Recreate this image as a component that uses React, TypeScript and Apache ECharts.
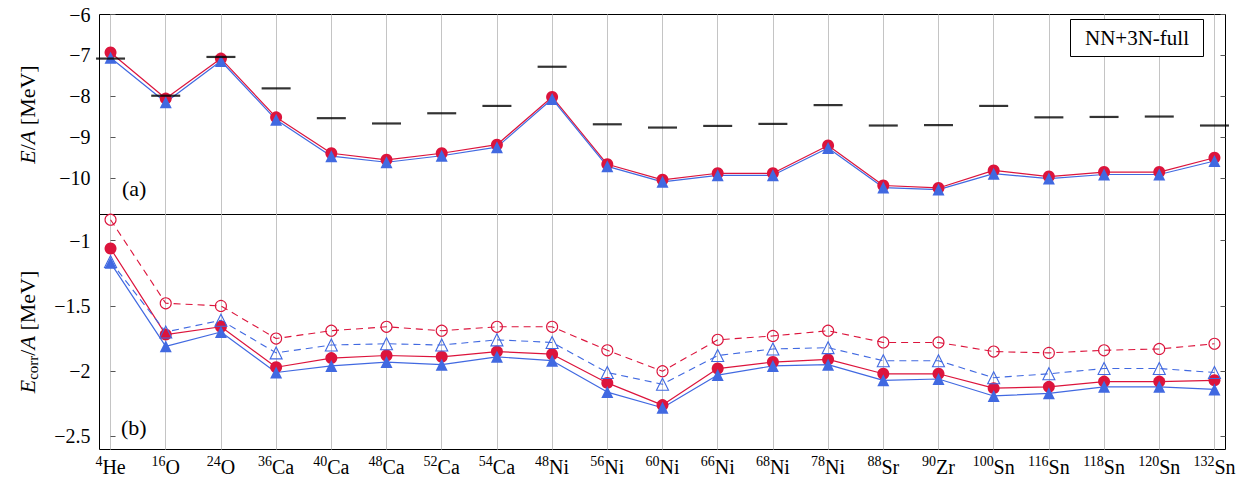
import React, { useEffect, useRef } from "react";
import * as echarts from "echarts";

// ---------- data ----------
const massNumbers = ["4", "16", "24", "36", "40", "48", "52", "54", "48", "56", "60", "66", "68", "78", "88", "90", "100", "116", "118", "120", "132"];
const elements = ["He", "O", "O", "Ca", "Ca", "Ca", "Ca", "Ca", "Ni", "Ni", "Ni", "Ni", "Ni", "Ni", "Sr", "Zr", "Sn", "Sn", "Sn", "Sn", "Sn"];

// panel (a): energy per nucleon [MeV]
const energyRed = [-6.93, -8.06, -7.08, -8.52, -9.40, -9.56, -9.40, -9.19, -8.02, -9.67, -10.05, -9.89, -9.89, -9.21, -10.19, -10.25, -9.82, -9.97, -9.86, -9.86, -9.51];
const energyBlue = [-7.06, -8.15, -7.14, -8.58, -9.47, -9.62, -9.46, -9.25, -8.07, -9.72, -10.10, -9.94, -9.94, -9.27, -10.24, -10.29, -9.90, -10.02, -9.92, -9.92, -9.59];
const energyExp = [-7.08, -7.99, -7.04, -7.81, -8.54, -8.67, -8.42, -8.24, -7.28, -8.69, -8.77, -8.73, -8.68, -8.22, -8.72, -8.71, -8.24, -8.52, -8.51, -8.50, -8.72];

// panel (b): correlation energy per nucleon [MeV]
const corrRedSolid = [-1.06, -1.72, -1.66, -1.97, -1.90, -1.88, -1.89, -1.85, -1.87, -2.09, -2.26, -1.98, -1.93, -1.91, -2.02, -2.02, -2.13, -2.12, -2.08, -2.08, -2.07];
const corrBlueSolid = [-1.17, -1.81, -1.70, -2.01, -1.96, -1.93, -1.95, -1.89, -1.92, -2.16, -2.28, -2.03, -1.96, -1.95, -2.07, -2.06, -2.19, -2.17, -2.12, -2.12, -2.14];
const corrRedDashed = [-0.84, -1.48, -1.50, -1.75, -1.69, -1.66, -1.69, -1.66, -1.66, -1.84, -2.00, -1.76, -1.73, -1.69, -1.78, -1.78, -1.85, -1.86, -1.84, -1.83, -1.79];
const corrBlueDashed = [-1.16, -1.70, -1.61, -1.86, -1.80, -1.79, -1.80, -1.76, -1.78, -2.01, -2.10, -1.88, -1.83, -1.82, -1.92, -1.92, -2.05, -2.02, -1.98, -1.98, -2.01];

const energyTicks = [-10, -9, -8, -7, -6];
const corrTicks = [-2.5, -2, -1.5, -1];

const RED = "#DC143C";
const BLUE = "#4169E1";
const FONT = "Liberation Serif";

const xIdx = massNumbers.map((_, i) => i);
const pairs = (arr: number[]) => arr.map((v, i) => [i, v]);
const minus = (v: number) => String(v).replace("-", "\u2212");

export default function App() {
  const ref = useRef<HTMLDivElement>(null);

  useEffect(() => {
    if (!ref.current) return;
    const chart = echarts.init(ref.current, null, { renderer: "svg" });

    const gridLeft = 99.5;
    const gridRight = 19.5;

    const xAxisBase = (gridIndex: number, showLabels: boolean) => ({
      type: "value",
      gridIndex,
      min: -0.2,
      max: 20.2,
      axisLine: { show: false },
      axisTick: { show: false, customValues: xIdx },
      splitLine: { show: true, lineStyle: { color: "#c4c4c4", width: 1 } },
      axisLabel: showLabels
        ? {
            show: true,
            customValues: xIdx,
            margin: 5,
            formatter: (v: number) => {
              const i = Math.round(v);
              return `{sup|${massNumbers[i]}}{el|${elements[i]}}`;
            },
            rich: {
              sup: { fontFamily: FONT, fontSize: 14, lineHeight: 16, verticalAlign: "top", color: "#000" },
              el: { fontFamily: FONT, fontSize: 20, lineHeight: 24, verticalAlign: "middle", color: "#000" },
            },
          }
        : { show: false },
    });

    const yAxisLeft = (gridIndex: number, min: number, max: number, ticks: number[], name: string, rich: any) => ({
      type: "value",
      gridIndex,
      min,
      max,
      position: "left",
      axisLine: { show: false },
      splitLine: { show: false },
      axisTick: { show: true, inside: true, length: 5, customValues: ticks, lineStyle: { color: "#555" } },
      axisLabel: {
        show: true,
        customValues: ticks,
        margin: 9,
        fontFamily: FONT,
        fontSize: 20,
        color: "#000",
        formatter: (v: number) => minus(v),
      },
      name,
      nameLocation: "middle",
      nameRotate: 90,
      nameGap: 59,
      nameTextStyle: { rich },
    });

    const yAxisRight = (gridIndex: number, min: number, max: number, ticks: number[]) => ({
      type: "value",
      gridIndex,
      min,
      max,
      position: "right",
      axisLine: { show: false },
      splitLine: { show: false },
      axisTick: { show: true, inside: true, length: 5, customValues: ticks, lineStyle: { color: "#555" } },
      axisLabel: { show: false, customValues: ticks },
    });

    const nameRich = {
      it: { fontFamily: FONT, fontStyle: "italic", fontSize: 22, lineHeight: 26, color: "#000" },
      n: { fontFamily: FONT, fontSize: 22, lineHeight: 26, color: "#000" },
      sub: { fontFamily: FONT, fontSize: 15, lineHeight: 17, verticalAlign: "bottom", color: "#000" },
    };

    const solidLine = (name: string, data: number[], color: string, symbol: string, size: number, xi: number, yi: number) => ({
      name,
      type: "line",
      xAxisIndex: xi,
      yAxisIndex: yi,
      data: pairs(data),
      symbol,
      symbolSize: size,
      showSymbol: true,
      lineStyle: { color, width: 1.2 },
      itemStyle: { color, borderWidth: 0 },
      clip: false,
    });

    const dashedLine = (name: string, data: number[], color: string, symbol: string, size: number, xi: number, yi: number) => ({
      name,
      type: "line",
      xAxisIndex: xi,
      yAxisIndex: yi,
      data: pairs(data),
      symbol,
      symbolSize: size,
      showSymbol: true,
      lineStyle: { color, width: 1.1, type: [7, 5] },
      itemStyle: { color: "rgba(0,0,0,0)", borderColor: color, borderWidth: 1.1 },
      clip: false,
    });

    const option: any = {
      animation: false,
      backgroundColor: "#fff",
      textStyle: { fontFamily: FONT },
      grid: [
        { left: gridLeft, right: gridRight, top: 14.5, height: 200, show: true, borderColor: "#000", borderWidth: 1, backgroundColor: "transparent" },
        { left: gridLeft, right: gridRight, top: 214.5, height: 235, show: true, borderColor: "#000", borderWidth: 1, backgroundColor: "transparent" },
      ],
      xAxis: [xAxisBase(0, false), xAxisBase(1, true)],
      yAxis: [
        yAxisLeft(0, -10.9, -6, energyTicks, "{it|E}{n|/}{it|A}{n| [MeV]}", nameRich),
        yAxisRight(0, -10.9, -6, energyTicks),
        yAxisLeft(1, -2.6, -0.8, corrTicks, "{it|E}{sub|corr}{n|/}{it|A}{n| [MeV]}", nameRich),
        yAxisRight(1, -2.6, -0.8, corrTicks),
      ],
      series: [
        solidLine("E red", energyRed, RED, "circle", 12, 0, 0),
        solidLine("E blue", energyBlue, BLUE, "triangle", 12, 0, 0),
        {
          name: "Experiment",
          type: "scatter",
          xAxisIndex: 0,
          yAxisIndex: 0,
          data: pairs(energyExp),
          symbol: "rect",
          symbolSize: [29, 2.2],
          itemStyle: { color: "#000" },
          clip: false,
          z: 5,
        },
        solidLine("Ecorr red", corrRedSolid, RED, "circle", 12, 1, 2),
        solidLine("Ecorr blue", corrBlueSolid, BLUE, "triangle", 12, 1, 2),
        dashedLine("Ecorr red dashed", corrRedDashed, RED, "circle", 11, 1, 2),
        dashedLine("Ecorr blue dashed", corrBlueDashed, BLUE, "triangle", 12, 1, 2),
      ],
      graphic: [
        {
          type: "rect",
          shape: { x: 1070.5, y: 19.5, width: 133, height: 37 },
          style: { fill: "#fff", stroke: "#000", lineWidth: 1 },
          z: 100,
        },
        {
          type: "text",
          x: 1137,
          y: 38,
          z: 101,
          style: {
            text: "NN+3N-full",
            font: "21px 'Liberation Serif'",
            fontFamily: FONT,
            fontSize: 21,
            fill: "#000",
            align: "center",
            verticalAlign: "middle",
          },
        },
        {
          type: "text",
          x: 122,
          y: 188,
          style: { text: "(a)", font: "22px 'Liberation Serif'", fontFamily: FONT, fontSize: 22, fill: "#000", verticalAlign: "middle" },
        },
        {
          type: "text",
          x: 121,
          y: 427,
          style: { text: "(b)", font: "22px 'Liberation Serif'", fontFamily: FONT, fontSize: 22, fill: "#000", verticalAlign: "middle" },
        },
      ],
    };

    chart.setOption(option);
    return () => chart.dispose();
  }, []);

  return (
    <div
      ref={ref}
      style={{ position: "fixed", left: 0, top: 0, width: 1245, height: 477, background: "#fff" }}
    />
  );
}
